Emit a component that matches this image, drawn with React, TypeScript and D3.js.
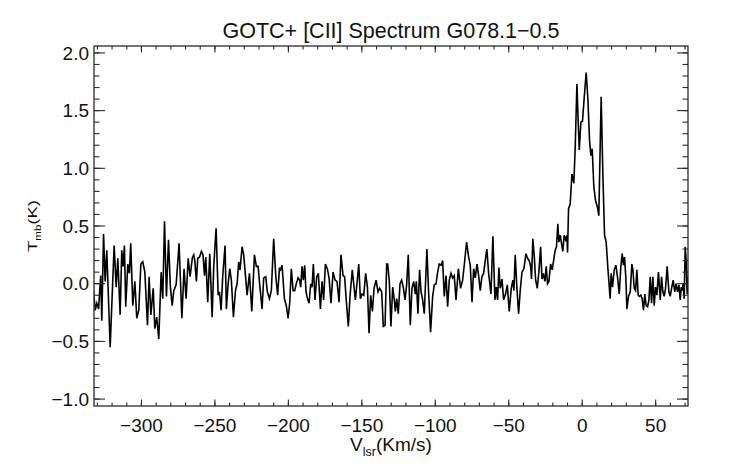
import React from "react";
import * as d3 from "d3";

// channel velocities (km/s) and main-beam temperatures (K)
const velocity = [
  -332.6, -331.5, -330.4, -329.2, -328.6, -327.7, -327.0, -325.8, -324.7, -323.6, -321.3, -318.6, -317.2,
  -316.1, -314.5, -313.4, -312.5, -311.6, -310.7, -309.3, -308.2, -307.3, -305.9, -304.5, -303.2, -301.8,
  -300.4, -299.1, -297.7, -295.9, -294.8, -293.6, -292.0, -290.9, -289.6, -288.2, -286.6, -285.5, -284.3,
  -283.0, -281.6, -280.3, -279.1, -278.0, -276.4, -274.4, -272.5, -271.0, -269.6, -268.2, -266.9, -265.3,
  -264.4, -263.7, -262.6, -261.7, -260.5, -259.2, -258.1, -257.1, -256.2, -254.9, -253.5, -251.9, -250.8,
  -249.2, -247.8, -246.9, -245.8, -244.7, -243.1, -242.2, -241.0, -239.9, -238.8, -237.4, -236.0, -234.9,
  -233.8, -232.9, -231.5, -230.4, -229.2, -228.1, -226.5, -224.9, -223.1, -221.8, -220.6, -219.5, -217.9,
  -216.8, -215.4, -214.3, -212.9, -211.6, -210.0, -208.6, -207.3, -206.1, -205.4, -204.3, -202.7, -201.4,
  -200.2, -199.1,
  -198.0, -196.8, -195.7, -194.6, -193.4, -192.3, -191.6, -190.7, -189.8, -188.9, -188.0, -186.8, -185.9,
  -184.8, -183.9, -183.0, -181.9, -180.7, -179.6, -178.2, -177.1, -176.0, -174.8, -173.5, -172.3, -171.0,
  -169.6, -168.2, -166.9, -165.5, -164.2, -162.8, -161.7, -160.8, -159.2, -158.0, -156.5, -155.3, -154.4,
  -153.1, -152.1, -151.0, -149.9, -148.7, -147.4, -146.2, -145.1, -144.0, -142.8, -141.7, -140.3, -139.0,
  -137.9, -136.5, -135.4, -134.2, -133.1,
  -132.4, -131.3, -130.2, -129.0, -127.9, -127.2, -126.3, -125.2, -124.0, -122.9, -121.8, -120.6, -119.5,
  -118.4, -117.0, -115.9, -114.7, -113.6, -112.9, -111.8, -110.7, -109.7, -108.6, -107.5, -105.7, -104.5,
  -103.2, -101.8, -100.7, -99.5, -98.4, -97.3, -96.1, -95.0, -93.9, -92.7, -91.6, -90.5, -89.3, -88.2,
  -87.1, -85.9, -84.3, -82.8, -81.4, -80.3, -78.7, -77.3, -76.2, -75.0, -73.9, -72.8, -71.6, -70.5, -69.4,
  -68.3,
  -67.1, -66.0, -64.9, -63.7, -62.1, -60.8, -59.4, -58.5, -57.6, -56.7, -55.8, -54.6, -53.5, -52.2, -51.0,
  -49.7, -48.3, -47.2, -46.5, -45.6, -44.5, -43.3, -42.2, -41.0, -39.7, -38.3, -37.2, -36.1, -35.1, -34.5,
  -33.6, -32.6, -31.7, -30.6, -29.5, -28.3, -27.4, -26.5, -25.4, -24.5, -23.6, -22.7, -21.5, -20.4, -19.5,
  -18.4, -17.5, -16.6, -15.9, -15.0, -14.1, -13.2, -12.3, -11.3, -10.4, -10.0, -9.3, -8.2, -7.0, -5.7,
  -4.8, -3.6, -2.7, -2.0, -0.9, 0.2, 1.4, 2.7, 3.9, 5.0, 5.9, 6.8, 7.9, 9.1, 10.4, 11.3, 12.9, 14.1, 15.2,
  16.3, 17.5,
  19.0, 19.7, 20.6, 21.8, 22.9, 24.0, 25.2, 26.3, 27.2, 28.1, 28.8, 29.7, 30.4, 31.5, 32.7, 33.8, 34.5,
  35.4, 36.3, 37.2, 38.1, 39.0, 39.9, 40.8, 41.7, 42.6, 43.5, 44.5, 45.4, 46.3, 47.2, 48.1, 49.0, 49.9,
  50.8, 51.9, 53.1, 54.0, 54.9, 55.8, 56.7, 57.8, 59.0, 59.9, 60.8, 61.9, 63.0, 63.9, 64.9, 65.8, 66.7,
  67.4, 68.0, 68.7, 69.4, 70.1, 70.8, 71.4, 72.1,
];

const tmb = [
  -0.06, -0.23, -0.17, -0.22, -0.10, 0.07, -0.32, 0.43, 0.02, 0.29, -0.55, 0.33, -0.03,
  0.22, -0.27, 0.29, 0.15, 0.33, -0.20, 0.17, 0.09, 0.35, -0.19, 0.02, -0.30, -0.23,
  0.17, 0.19, 0.10, -0.36, 0.06, -0.27, -0.04, -0.39, -0.29, -0.48, 0.10, -0.13, 0.54,
  -0.11, 0.38, -0.03, -0.19, -0.06, -0.01, 0.35, -0.30, 0.13, -0.13, 0.22, 0.06, 0.23,
  0.25, 0.20, 0.02, 0.22, 0.23, 0.28, 0.25, 0.07, 0.23, -0.16, 0.26, -0.29, 0.15,
  0.48, -0.10, -0.07, -0.23, 0.06, 0.33, -0.22, 0.00, 0.13, 0.03, -0.29, -0.06, 0.00,
  0.19, 0.12, 0.32, 0.25, 0.07, -0.10, 0.09, -0.24, 0.25, 0.15, 0.15, -0.01, -0.22,
  0.05, 0.06, -0.07, -0.13, -0.06, 0.39, 0.07, -0.10, 0.13, 0.12, 0.16, -0.13, -0.19,
  -0.30, -0.17,
  0.13, -0.06, -0.06, 0.00, 0.05, 0.03, -0.03, 0.15, 0.03, 0.16, -0.07, -0.14, -0.17,
  0.00, -0.03, 0.17, -0.14, 0.06, 0.09, -0.22, 0.02, -0.14, 0.17, 0.13, 0.05, -0.17,
  0.10, 0.03, 0.02, -0.16, 0.25, 0.07, 0.06, -0.11, -0.37, -0.10, 0.12, -0.03, -0.14,
  0.03, 0.17, -0.13, -0.09, -0.10, 0.09, -0.03, -0.43, -0.10, -0.24, -0.04, 0.03, -0.07,
  -0.04, -0.07, -0.37, -0.36, 0.17,
  0.17, 0.02, -0.37, -0.03, -0.14, -0.24, -0.13, -0.26, 0.00, 0.03, -0.03, -0.14, -0.01,
  0.25, -0.36, -0.04, 0.02, -0.09, 0.02, -0.26, 0.12, -0.07, -0.14, -0.26, 0.30, -0.09,
  -0.42, -0.11, -0.01, 0.00, 0.10, 0.17, 0.16, 0.20, -0.11, 0.07, -0.20, 0.03, 0.09, 0.05,
  0.07, -0.14, 0.13, -0.04, 0.03, 0.16, 0.36, 0.23, 0.16, -0.16, 0.13, 0.05, 0.17, 0.07, -0.06,
  0.06,
  0.09, 0.20, 0.30, 0.09, -0.09, 0.41, -0.14, -0.03, -0.14, 0.14, -0.04, 0.04, -0.14, -0.09, -0.01,
  -0.24, -0.04, 0.03, -0.06, 0.25, -0.03, -0.26, -0.06, 0.10, 0.13, 0.26, 0.22, 0.20, 0.15, 0.04,
  0.39, 0.23, 0.03, -0.04, 0.10, 0.32, 0.04, 0.09, 0.02, 0.15, 0.00, 0.02, 0.17, 0.12, 0.20,
  0.29, 0.32, 0.52, 0.36, 0.42, 0.35, 0.28, 0.42, 0.38, 0.42, 0.27, 0.65, 0.69, 0.95, 0.87,
  1.17, 1.73, 1.39, 1.16, 1.40, 1.41, 1.62, 1.83, 1.59, 1.24, 1.11, 1.17, 0.84, 0.72, 0.66, 0.59, 1.62, 0.92, 0.42,
  0.36, 0.13,
  -0.13, 0.09, -0.03, 0.12, 0.16, 0.06, -0.09, 0.15, 0.26, 0.16, 0.23, 0.05, -0.22,
  -0.11, -0.07, 0.17, 0.12, -0.04, -0.06, 0.12, -0.10, -0.11, -0.10, -0.13, -0.23, -0.09,
  -0.19, -0.20, -0.14, 0.06, -0.17, 0.06, -0.19, -0.03, -0.10, 0.10, -0.14, 0.06, -0.07,
  -0.11, -0.04, 0.15, -0.07, -0.11, -0.04, 0.03, -0.07, 0.00, -0.07, -0.01, -0.14, -0.03, -0.06,
  0.00, -0.13, 0.32, 0.20, -0.09, 0.06,
];

const xMajorTicks = [-300, -250, -200, -150, -100, -50, 0, 50];
const xMinorTicks = d3.range(-330, 71, 10);
const yMajorTicks = [-1.0, -0.5, 0.0, 0.5, 1.0, 1.5, 2.0];
const yMinorTicks = d3.range(-10, 21).map(d => d / 10);

const xDomain: [number, number] = [-332.3, 72];
const yDomain: [number, number] = [-1.06, 2.06];

const title = "GOTC+ [CII] Spectrum G078.1\u22120.5";

const W = 742;
const H = 464;
const plot = { left: 94, right: 688, top: 46, bottom: 406 };
const font = "'Liberation Sans', Arial, Helvetica, sans-serif";
const axisColor = "#2a2a2a";

const fmt = (v: number, digits: number) => v.toFixed(digits).replace("-", "\u2212");

export default function App() {
  const x = d3.scaleLinear().domain(xDomain).range([plot.left, plot.right]);
  const y = d3.scaleLinear().domain(yDomain).range([plot.bottom, plot.top]);

  const points: [number, number][] = velocity
    .slice(0, Math.min(velocity.length, tmb.length))
    .map((v, i) => [v, tmb[i]]);

  const line = d3
    .line<[number, number]>()
    .x(d => x(d[0]))
    .y(d => y(d[1]));

  const xMajLen = 6.5;
  const xMinLen = 3.5;
  const yMajLen = 11;
  const yMinLen = 5.5;

  const cx = (plot.left + plot.right) / 2;
  const cy = (plot.top + plot.bottom) / 2;

  return (
    <svg
      width={W}
      height={H}
      style={{ position: "absolute", left: 0, top: 0, background: "#fff" }}
      fontFamily={font}
    >
      <rect width={W} height={H} fill="#fff" />
      <defs>
        <clipPath id="plotClip">
          <rect
            x={plot.left}
            y={plot.top}
            width={plot.right - plot.left}
            height={plot.bottom - plot.top}
          />
        </clipPath>
      </defs>

      {/* spectrum */}
      <path
        d={line(points) || ""}
        fill="none"
        stroke="#000"
        strokeWidth={1.6}
        clipPath="url(#plotClip)"
      />

      {/* frame */}
      <rect
        x={plot.left}
        y={plot.top}
        width={plot.right - plot.left}
        height={plot.bottom - plot.top}
        fill="none"
        stroke={axisColor}
        strokeWidth={1.3}
      />

      {/* ticks on all four sides, pointing inward */}
      <g stroke={axisColor} strokeWidth={1.1}>
        {xMinorTicks.map(t => (
          <g key={`xm${t}`}>
            <line x1={x(t)} x2={x(t)} y1={plot.bottom} y2={plot.bottom - xMinLen} />
            <line x1={x(t)} x2={x(t)} y1={plot.top} y2={plot.top + xMinLen} />
          </g>
        ))}
        {xMajorTicks.map(t => (
          <g key={`xM${t}`}>
            <line x1={x(t)} x2={x(t)} y1={plot.bottom} y2={plot.bottom - xMajLen} />
            <line x1={x(t)} x2={x(t)} y1={plot.top} y2={plot.top + xMajLen} />
          </g>
        ))}
        {yMinorTicks.map(t => (
          <g key={`ym${t}`}>
            <line x1={plot.left} x2={plot.left + yMinLen} y1={y(t)} y2={y(t)} />
            <line x1={plot.right} x2={plot.right - yMinLen} y1={y(t)} y2={y(t)} />
          </g>
        ))}
        {yMajorTicks.map(t => (
          <g key={`yM${t}`}>
            <line x1={plot.left} x2={plot.left + yMajLen} y1={y(t)} y2={y(t)} />
            <line x1={plot.right} x2={plot.right - yMajLen} y1={y(t)} y2={y(t)} />
          </g>
        ))}
      </g>

      {/* tick labels */}
      <g fontSize={19} fill="#111">
        {xMajorTicks.map(t => (
          <text key={`xl${t}`} x={x(t)} y={432} textAnchor="middle">
            {fmt(t, 0)}
          </text>
        ))}
        {yMajorTicks.map(t => (
          <text key={`yl${t}`} x={89} y={y(t) + 6.8} textAnchor="end">
            {fmt(t, 1)}
          </text>
        ))}
      </g>

      {/* title */}
      <text x={cx} y={38} textAnchor="middle" fontSize={21.5} fill="#111">
        {title}
      </text>

      {/* x axis label */}
      <text x={cx} y={451} textAnchor="middle" fontSize={19} fill="#111">
        V
        <tspan fontSize={12.5} dy={5}>
          lsr
        </tspan>
        <tspan dy={-5}>(Km/s)</tspan>
      </text>

      {/* y axis label */}
      <text
        transform={`translate(37,${cy}) rotate(-90) scale(1,0.74)`}
        textAnchor="middle"
        fontSize={18.5}
        fill="#111"
      >
        T
        <tspan fontSize={11.5} dy={5}>
          mb
        </tspan>
        <tspan dy={-5}>(K)</tspan>
      </text>
    </svg>
  );
}
